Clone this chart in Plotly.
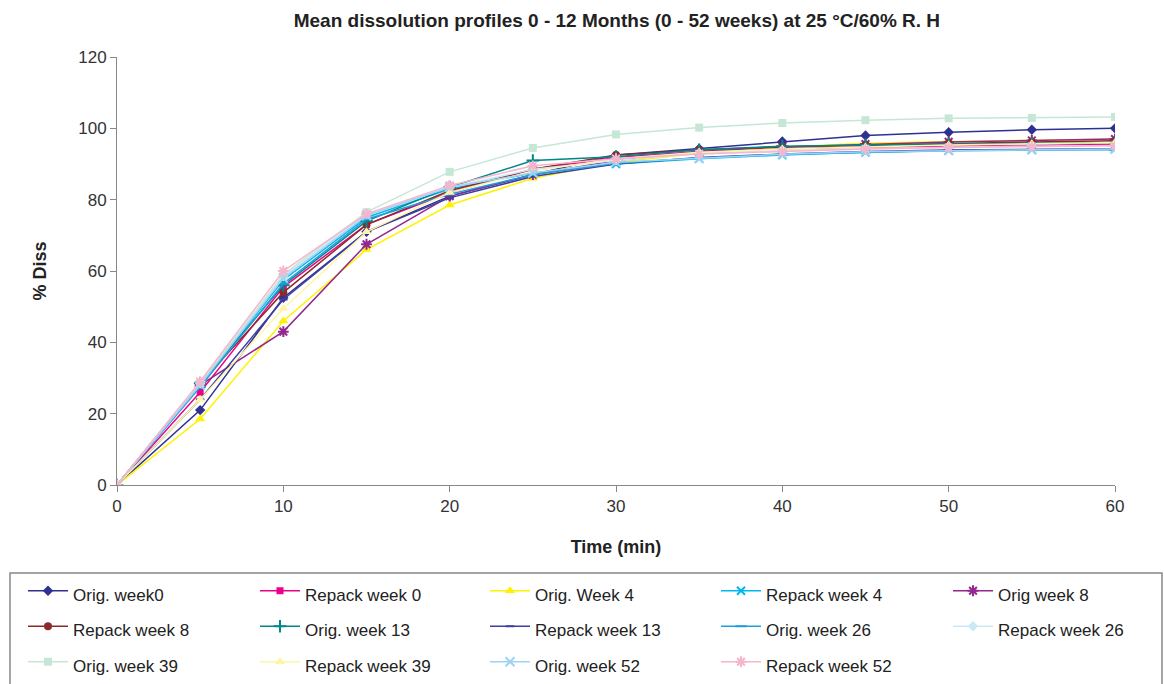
import plotly.graph_objects as go

# Sampling times (min)
time_min = [0, 5, 10, 15, 20, 25, 30, 35, 40, 45, 50, 55, 60]

# Mean % dissolved per storage condition
orig_week0 = [0, 21, 52.5, 71, 81, 87, 92.5, 94.3, 96.3, 98, 98.9, 99.6, 100]
repack_week0 = [0, 26, 55.5, 73, 82, 88.5, 91.8, 93.5, 94.3, 94.8, 95, 95.3, 95.5]
orig_week4 = [0, 18.5, 46, 66, 78.5, 86, 90.5, 93, 94.8, 95.8, 96.3, 96.7, 97]
repack_week4 = [0, 28, 57.5, 75, 83, 87.5, 90, 91.5, 92.5, 93.3, 93.8, 94, 94.2]
orig_week8 = [0, 28, 43, 67.5, 81, 87, 91, 93.5, 94.8, 95.6, 96.2, 96.6, 97]
repack_week8 = [0, 28.5, 54, 73, 82.5, 88.5, 92.5, 94, 94.8, 95.3, 95.8, 96.2, 96.5]
orig_week13 = [0, 28.5, 56, 74, 83.5, 91, 92, 94, 95, 95.4, 95.6, 95.8, 96]
repack_week13 = [0, 24, 52, 71, 80.5, 86.5, 90, 91.8, 92.8, 93.5, 93.9, 94.1, 94.3]
orig_week26 = [0, 27.5, 56.5, 74.5, 81.5, 87, 90.2, 91.7, 92.7, 93.3, 93.7, 93.9, 94]
repack_week26 = [0, 28.5, 58.5, 76, 83.5, 88.5, 91, 93, 93.8, 94.3, 94.7, 95, 95.2]
orig_week39 = [0, 28.5, 59, 76.5, 87.8, 94.5, 98.3, 100.2, 101.5, 102.3, 102.8, 102.9, 103.2]
repack_week39 = [0, 24, 49.5, 71, 82, 88, 91.5, 93.3, 94.2, 94.8, 95.3, 95.7, 96]
orig_week52 = [0, 28, 58, 75.5, 83.5, 87.5, 90.5, 91.5, 92.7, 93.4, 93.8, 94, 94.2]
repack_week52 = [0, 29, 60, 76, 84, 89.5, 91.5, 92.8, 93.5, 94.2, 94.6, 94.9, 95.1]

series_names = [
    "Orig. week0", "Repack week 0", "Orig. Week 4", "Repack week 4", "Orig week 8",
    "Repack week 8", "Orig. week 13", "Repack week 13", "Orig. week 26", "Repack week 26",
    "Orig. week 39", "Repack week 39", "Orig. week 52", "Repack week 52",
]
series_values = [
    orig_week0, repack_week0, orig_week4, repack_week4, orig_week8,
    repack_week8, orig_week13, repack_week13, orig_week26, repack_week26,
    orig_week39, repack_week39, orig_week52, repack_week52,
]

# (colour, marker symbol, marker size)
styles = [
    ("#2E3192", "diamond", 8),
    ("#EC008C", "square", 7),
    ("#FFF200", "triangle-up", 9),
    ("#00B7EF", "x-thin-open", 8),
    ("#92278F", "asterisk-open", 9),
    ("#8C2A2A", "circle", 8),
    ("#00868B", "cross-thin-open", 9),
    ("#3F3FA0", "line-ew-open", 6),
    ("#1E9FDB", "line-ew-open", 8),
    ("#CDE8F5", "diamond", 8),
    ("#C6E7D6", "square", 8),
    ("#FFF5A8", "triangle-up", 9),
    ("#9DD3F5", "x-thin-open", 9),
    ("#F5B5CC", "asterisk-open", 9),
]

N_COLS = 5
legend_ids = ["legend"] + [f"legend{i}" for i in range(2, N_COLS + 1)]

fig = go.Figure()
for i, (name, vals, (col, sym, size)) in enumerate(zip(series_names, series_values, styles)):
    open_sym = sym.endswith("-open")
    fig.add_trace(go.Scatter(
        x=time_min, y=vals, mode="lines+markers",
        # legend rows use a taller line box; the label itself stays 17px
        name=f"<span style='font-size:17px'>{name}</span>",
        legend=legend_ids[i % N_COLS],
        line=dict(color=col, width=1.5),
        marker=dict(symbol=sym, size=size, color=col,
                    line=dict(color=col, width=2 if open_sym else 0)),
    ))

W, H = 1164, 684
plot_l, plot_r, plot_t, plot_b = 117, 1115, 57, 485
pw, ph = plot_r - plot_l, plot_b - plot_t


def px_to_paper_x(px):
    return (px - plot_l) / pw


def px_to_paper_y(py):
    return (plot_b - py) / ph


axis_font = dict(family="Liberation Sans, Arial, sans-serif", size=17, color="#333333")

# Legend laid out as five columns, framed by one box below the plot
col_left_px = [23, 255, 485, 716, 948]
legend_top_px = 568
legend_layouts = {}
for lid, px in zip(legend_ids, col_left_px):
    legend_layouts[lid] = dict(
        orientation="v",
        xref="paper", yref="paper",
        x=px_to_paper_x(px), y=px_to_paper_y(legend_top_px),
        xanchor="left", yanchor="top",
        bgcolor="rgba(0,0,0,0)", borderwidth=0,
        font=dict(family="Liberation Sans, Arial, sans-serif", size=25, color="#222222"),
        tracegroupgap=0, itemwidth=40,
    )

fig.update_layout(
    width=W, height=H,
    margin=dict(l=plot_l, r=W - plot_r, t=plot_t, b=H - plot_b, autoexpand=False),
    paper_bgcolor="white", plot_bgcolor="white",
    font=axis_font,
    title=dict(
        text="<b>Mean dissolution profiles 0 - 12 Months (0 - 52 weeks) at 25 °C/60% R. H</b>",
        x=0.53, xanchor="center", y=0.97, yanchor="middle",
        font=dict(family="Liberation Sans, Arial, sans-serif", size=19, color="#222222"),
    ),
    xaxis=dict(
        range=[0, 60], tickvals=[0, 10, 20, 30, 40, 50, 60],
        showline=True, linecolor="#888888", linewidth=1,
        ticks="outside", ticklen=6, tickcolor="#888888",
        showgrid=False, zeroline=False,
        title=dict(text="<b>Time (min)</b>", font=dict(size=18, color="#222222"), standoff=24),
    ),
    yaxis=dict(
        range=[0, 120], tickvals=[0, 20, 40, 60, 80, 100, 120],
        showline=True, linecolor="#888888", linewidth=1,
        ticks="outside", ticklen=6, tickcolor="#888888",
        showgrid=False, zeroline=False,
        title=dict(text="<b>% Diss</b>", font=dict(size=18, color="#222222"), standoff=26),
    ),
    showlegend=True,
    **legend_layouts,
)

# Frame around the legend block
fig.add_shape(
    type="rect", xref="paper", yref="paper",
    x0=px_to_paper_x(10), x1=px_to_paper_x(1162),
    y0=px_to_paper_y(690), y1=px_to_paper_y(573),
    line=dict(color="#888888", width=1.5), fillcolor="rgba(0,0,0,0)",
    layer="below",
)

fig.write_html("out.html")
